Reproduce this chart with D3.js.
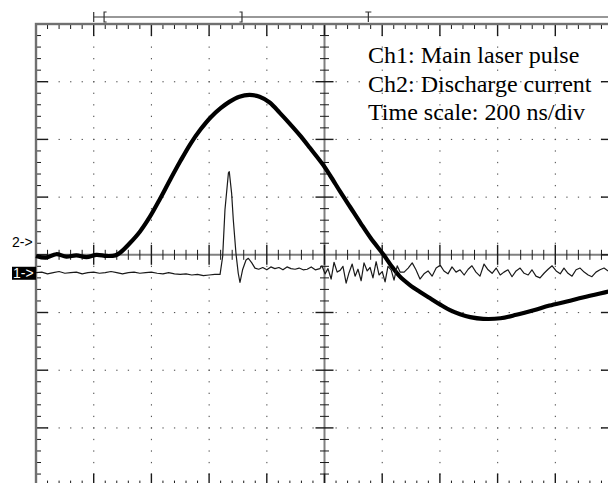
<!DOCTYPE html>
<html>
<head>
<meta charset="utf-8">
<script src="https://cdn.jsdelivr.net/npm/d3@7"></script>
<style>
  html, body { margin: 0; padding: 0; background: #fff; }
  svg { display: block; }
</style>
</head>
<body>
<svg id="scope" width="608" height="483"></svg>
<script>
// Screen layout: 10 x 8 divisions, 5 minor steps per division, 200 ns/div
const nsPerDiv = 200;
const hDivs = 10;
const vDivs = 8;
const minorPerDiv = 5;

// Record-window markers along the top bar (ns from left edge of screen)
const horizPosition = 200;
const windowStart = 236;
const windowEnd = 714;
const triggerPoint = 1152;

// Ch1: main laser pulse (thin trace), volts in divisions
const ch1Time = [
  0, 20, 40, 60, 80, 100, 120, 140, 160, 180, 200, 220, 240, 260, 280, 300,
  320, 340, 360, 380, 400, 420, 440, 460, 480, 500, 520, 540, 560, 580, 600, 620,
  638, 647, 655, 667, 670, 678, 684, 693, 701, 707, 716, 728, 736, 748, 759,
  772, 786, 800, 814, 828, 842, 856, 870, 884, 898, 912, 926, 940, 954, 968, 984,
  991, 1002, 1012, 1023, 1033, 1044, 1054, 1064, 1075, 1085, 1096, 1106, 1116, 1127,
  1137, 1148, 1158, 1168, 1179, 1189, 1200, 1210, 1220, 1231, 1241, 1252, 1262,
  1276, 1290, 1304, 1317, 1331, 1345, 1359, 1373, 1387, 1401, 1414, 1428, 1442,
  1456, 1470, 1484, 1498, 1511, 1525, 1539, 1553, 1567, 1581, 1595, 1609, 1622,
  1636, 1650, 1664, 1678, 1692, 1706, 1719, 1733, 1747, 1761, 1775, 1789, 1803,
  1817, 1830, 1844, 1858, 1872, 1886, 1900, 1914, 1927, 1941, 1955, 1969, 1983
];
const ch1Value = [
  -0.31, -0.30, -0.33, -0.31, -0.29, -0.32, -0.31, -0.30, -0.33, -0.31, -0.30, -0.32, -0.31, -0.29, -0.31, -0.33,
  -0.31, -0.30, -0.32, -0.31, -0.30, -0.32, -0.33, -0.31, -0.33, -0.34, -0.33, -0.35, -0.34, -0.36, -0.35, -0.34,
  -0.34, -0.03, 0.78, 1.42, 1.44, 1.07, 0.60, 0.03, -0.32, -0.48, -0.26, -0.09, -0.06, -0.14, -0.23,
  -0.25, -0.22, -0.26, -0.21, -0.24, -0.22, -0.26, -0.21, -0.24, -0.25, -0.23, -0.26, -0.25, -0.21, -0.26, -0.24,
  -0.19, -0.33, -0.24, -0.42, -0.13, -0.30, -0.27, -0.20, -0.49, -0.31, -0.16, -0.37, -0.25, -0.45,
  -0.14, -0.28, -0.22, -0.40, -0.12, -0.35, -0.29, -0.47, -0.20, -0.26, -0.44, -0.19, -0.30,
  -0.30, -0.23, -0.14, -0.26, -0.42, -0.33, -0.28, -0.37, -0.23, -0.18, -0.28, -0.33, -0.21,
  -0.30, -0.26, -0.35, -0.25, -0.19, -0.30, -0.37, -0.16, -0.26, -0.32, -0.23, -0.35, -0.30,
  -0.26, -0.38, -0.28, -0.23, -0.32, -0.35, -0.26, -0.37, -0.40, -0.32, -0.25, -0.19, -0.28,
  -0.33, -0.23, -0.32, -0.37, -0.26, -0.23, -0.30, -0.35, -0.38, -0.30, -0.26, -0.23, -0.28
];

// Ch2: discharge current (thick trace), volts in divisions
const ch2Time = [
  0, 35, 70, 105, 140, 175, 210, 245, 275, 290, 325, 360, 395, 430, 465, 500,
  535, 570, 605, 640, 670, 705, 740, 775, 810, 845, 880, 915, 950, 995, 1020, 1055,
  1090, 1125, 1160, 1205, 1230, 1260, 1295, 1330, 1365, 1400, 1435, 1470, 1505, 1550,
  1610, 1665, 1725, 1780, 1840, 1895, 1955, 2000
];
const ch2Value = [
  -0.02, -0.05, 0.01, -0.03, -0.01, -0.04, 0.00, -0.02, -0.01, 0.03, 0.20, 0.40, 0.66, 0.97, 1.30, 1.62,
  1.92, 2.17, 2.38, 2.54, 2.65, 2.74, 2.77, 2.74, 2.64, 2.46, 2.27, 2.07, 1.85, 1.56, 1.37, 1.09,
  0.82, 0.55, 0.29, 0.00, -0.18, -0.37, -0.52, -0.64, -0.75, -0.86, -0.96, -1.03, -1.08, -1.11,
  -1.10, -1.04, -0.96, -0.88, -0.81, -0.74, -0.67, -0.62
];

const legendLines = ["Ch1: Main laser pulse", "Ch2: Discharge current", "Time scale: 200 ns/div"];
const ch1Label = "1->";
const ch2Label = "2->";
const ch1Ground = -0.32;
const ch2Ground = 0.22;

// ---------------------------------------------------------------------------
const svg = d3.select("#scope");
const gLeft = 36, gTop = 24, divPx = 57.7;

const x = d3.scaleLinear()
  .domain([0, hDivs * nsPerDiv])
  .range([gLeft, gLeft + hDivs * divPx]);
const y = d3.scaleLinear()
  .domain([-vDivs / 2, vDivs / 2])
  .range([gTop + vDivs * divPx, gTop]);

const tMax = hDivs * nsPerDiv;
const vMax = vDivs / 2;
const tMinor = nsPerDiv / minorPerDiv;
const vMinor = 1 / minorPerDiv;
const tMinorTicks = d3.range(1, hDivs * minorPerDiv).map(i => i * tMinor);
const vMinorTicks = d3.range(1, vDivs * minorPerDiv).map(i => -vMax + i * vMinor);
const isMajorT = t => Math.abs(t / nsPerDiv - Math.round(t / nsPerDiv)) < 1e-6;
const isMajorV = v => Math.abs(v - Math.round(v)) < 1e-6;

const x0 = x(tMax / 2), y0 = y(0);
const xL = x(0), xR = x(tMax), yT = y(vMax), yB = y(-vMax);

// Dotted graticule on the major division lines
const grid = svg.append("g").attr("fill", "#555");
d3.range(1, hDivs).filter(k => k !== hDivs / 2).forEach(k => {
  vMinorTicks.forEach(v => {
    grid.append("rect").attr("x", x(k * nsPerDiv) - 0.5).attr("y", y(v) - 0.6)
      .attr("width", 1.1).attr("height", 1.3);
  });
});
d3.range(1, vDivs).map(k => -vMax + k).filter(v => v !== 0).forEach(v => {
  tMinorTicks.forEach(t => {
    grid.append("rect").attr("x", x(t) - 0.55).attr("y", y(v) - 0.5)
      .attr("width", 1.3).attr("height", 1.1);
  });
});

// Centre cross axes
const axes = svg.append("g");
axes.append("line").attr("x1", x0).attr("x2", x0).attr("y1", yT).attr("y2", yB)
  .attr("stroke", "#808080").attr("stroke-width", 2);
axes.append("line").attr("x1", xL).attr("x2", xR).attr("y1", y0).attr("y2", y0)
  .attr("stroke", "#808080").attr("stroke-width", 2);

const ticks = svg.append("g").attr("stroke", "#1a1a1a").attr("stroke-width", 1);
// ticks crossing the centre axes
tMinorTicks.forEach(t => {
  const h = isMajorT(t) ? 10 : 5;
  ticks.append("line").attr("x1", x(t)).attr("x2", x(t)).attr("y1", y0 - h).attr("y2", y0 + h)
    .attr("stroke-width", isMajorT(t) ? 1.4 : 1);
});
vMinorTicks.forEach(v => {
  if (Math.abs(v) < 1e-6) return;
  const h = isMajorV(v) ? 9 : 4.5;
  ticks.append("line").attr("x1", x0 - h).attr("x2", x0 + h).attr("y1", y(v)).attr("y2", y(v))
    .attr("stroke-width", isMajorV(v) ? 1.4 : 1);
});

// Frame
svg.append("rect").attr("x", xL).attr("y", yT).attr("width", xR - xL).attr("height", yB - yT)
  .attr("fill", "none").attr("stroke", "#707070").attr("stroke-width", 2.4);

// ticks on the frame edges
tMinorTicks.forEach(t => {
  const h = isMajorT(t) ? 12 : 5;
  ticks.append("line").attr("x1", x(t)).attr("x2", x(t)).attr("y1", yT).attr("y2", yT + h)
    .attr("stroke-width", isMajorT(t) ? 1.4 : 1);
  ticks.append("line").attr("x1", x(t)).attr("x2", x(t)).attr("y1", yB).attr("y2", yB - h)
    .attr("stroke-width", isMajorT(t) ? 1.4 : 1);
});
vMinorTicks.forEach(v => {
  const h = isMajorV(v) ? 12 : 5;
  ticks.append("line").attr("x1", xL).attr("x2", xL + h).attr("y1", y(v)).attr("y2", y(v))
    .attr("stroke-width", isMajorV(v) ? 1.4 : 1);
  ticks.append("line").attr("x1", xR).attr("x2", xR - h).attr("y1", y(v)).attr("y2", y(v))
    .attr("stroke-width", isMajorV(v) ? 1.4 : 1);
});

// Record bar above the graticule
const barY = 17;
const bar = svg.append("g").attr("stroke", "#333").attr("fill", "none").attr("stroke-width", 1.2);
bar.append("line").attr("x1", x(horizPosition)).attr("x2", 608).attr("y1", barY).attr("y2", barY);
bar.append("line").attr("x1", x(horizPosition)).attr("x2", x(horizPosition)).attr("y1", barY - 5).attr("y2", barY + 5);
bar.append("path").attr("d", `M${x(windowStart) + 2.5},${barY - 5}H${x(windowStart)}V${barY + 5}H${x(windowStart) + 2.5}`);
bar.append("path").attr("d", `M${x(windowEnd) - 2.5},${barY - 5}H${x(windowEnd)}V${barY + 5}H${x(windowEnd) - 2.5}`);
bar.append("path").attr("d", `M${x(triggerPoint) - 3},${barY - 5}H${x(triggerPoint) + 3}M${x(triggerPoint)},${barY - 5}V${barY + 5}`);

// Traces
const line = (times, vals, curve) => d3.line()
  .curve(curve)
  .x(i => x(times[i])).y(i => y(vals[i]))(d3.range(times.length));

svg.append("path").attr("d", line(ch2Time, ch2Value, d3.curveCatmullRom))
  .attr("fill", "none").attr("stroke", "#000").attr("stroke-width", 4.2)
  .attr("stroke-linejoin", "round");
svg.append("path").attr("d", line(ch1Time, ch1Value, d3.curveLinear))
  .attr("fill", "none").attr("stroke", "#1a1a1a").attr("stroke-width", 1.2)
  .attr("stroke-linejoin", "round");

// Channel ground markers
svg.append("text").attr("x", 12).attr("y", y(ch2Ground) + 5)
  .attr("font-family", "Liberation Sans, Arial, sans-serif").attr("font-size", 14)
  .attr("fill", "#000").text(ch2Label);
svg.append("rect").attr("x", 12).attr("y", y(ch1Ground) - 6.5).attr("width", 24).attr("height", 13)
  .attr("fill", "#000");
svg.append("text").attr("x", 13).attr("y", y(ch1Ground) + 5)
  .attr("font-family", "Liberation Sans, Arial, sans-serif").attr("font-size", 14)
  .attr("fill", "#fff").text(ch1Label);

// Legend text
svg.append("g").selectAll("text").data(legendLines).join("text")
  .attr("x", 368).attr("y", (d, i) => 63 + i * 28.7)
  .attr("font-family", "Liberation Serif, Times New Roman, serif")
  .attr("font-size", 24).attr("fill", "#000")
  .text(d => d);
</script>
</body>
</html>
